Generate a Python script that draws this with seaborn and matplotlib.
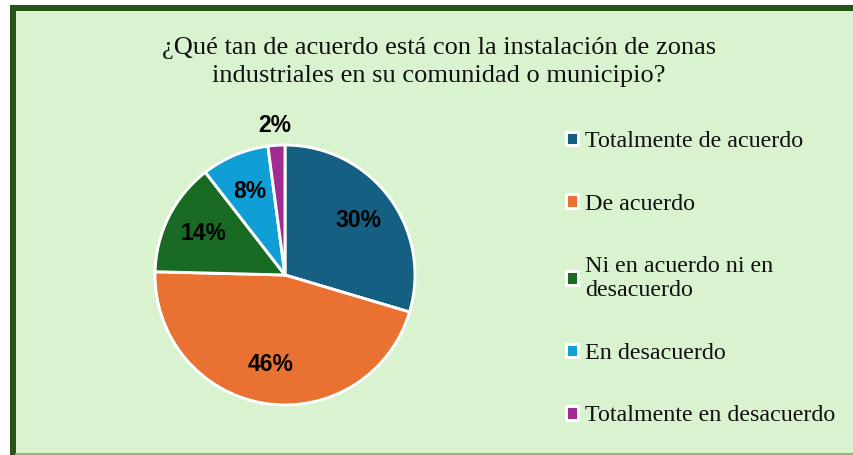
import numpy as np
import matplotlib
matplotlib.use("Agg")
import matplotlib.pyplot as plt
import seaborn as sns
from matplotlib.lines import Line2D
from matplotlib.patches import Rectangle

# --- Data ---
categories = ["Totalmente de acuerdo", "De acuerdo", "Ni en acuerdo ni en\ndesacuerdo",
              "En desacuerdo", "Totalmente en desacuerdo"]
percentages = [29.6, 45.8, 14.1, 8.4, 2.1]
slice_colors = ["#156082", "#E97132", "#196B24", "#0F9ED5", "#A02B93"]
title = "¿Qué tan de acuerdo está con la instalación de zonas\nindustriales en su comunidad o municipio?"

BG = "#D9F2D0"
BORDER = "#275317"

sns.set_theme(style="white")
plt.rcParams["font.family"] = ["Liberation Serif", "DejaVu Serif"]

W, H = 854, 455
fig = plt.figure(figsize=(W / 100, H / 100), dpi=100)
fig.patch.set_facecolor("white")

# chart area background + border
fig.patches.append(Rectangle((13 / W, 0), 1, 1 - 8 / H, transform=fig.transFigure,
                             facecolor=BG, edgecolor="none", zorder=-5))
fig.add_artist(Line2D([13 / W, 13 / W], [0, 1 - 5 / H], transform=fig.transFigure,
                      color=BORDER, lw=6 * 0.72, solid_capstyle="butt", zorder=-4))
fig.add_artist(Line2D([10 / W, 1], [1 - 8 / H, 1 - 8 / H], transform=fig.transFigure,
                      color=BORDER, lw=6 * 0.72, solid_capstyle="butt", zorder=-4))
fig.add_artist(Line2D([16 / W, 1], [1.5 / H, 1.5 / H], transform=fig.transFigure,
                      color="#8DB87A", lw=2 * 0.72, zorder=-4))

# pie axes: centre (285, 275) px, radius 130 px, pie limits +-1.25
cx, cy, r = 285, H - 275, 130
half = r * 1.25
ax = fig.add_axes([(cx - half) / W, (cy - half) / H, 2 * half / W, 2 * half / H])
ax.set_facecolor("none")
ax.set_zorder(1)

palette = sns.color_palette(slice_colors)
wedges, texts, autotexts = ax.pie(
    percentages, colors=palette, startangle=90, counterclock=False,
    autopct=lambda p: f"{p:.0f}%", pctdistance=0.7,
    wedgeprops=dict(edgecolor="white", linewidth=2.1),
    textprops=dict(fontsize=16.5, fontweight="bold", color="black",
                   family=["Liberation Sans", "DejaVu Sans"]))

# tiny slice label goes outside
for w, t, v in zip(wedges, autotexts, percentages):
    if v < 5:
        ang = np.deg2rad((w.theta1 + w.theta2) / 2)
        t.set_position((1.15 * np.cos(ang), 1.15 * np.sin(ang)))
        t.set_clip_on(False)

fig.text(439 / W, 1 - 62 / H, title, ha="center", va="center", fontsize=19,
         color="#111111", linespacing=1.3)

leg = fig.legend(wedges, categories, loc="upper left",
                 bbox_to_anchor=(566 / W, 1 - 131 / H), bbox_transform=fig.transFigure,
                 frameon=False, fontsize=17.3, handlelength=0.5, handleheight=0.5,
                 handletextpad=0.3, labelspacing=1.73, borderpad=0, borderaxespad=0)
for t in leg.get_texts():
    t.set_color("#111111")

fig.savefig("out.png", dpi=100, facecolor=fig.get_facecolor())
